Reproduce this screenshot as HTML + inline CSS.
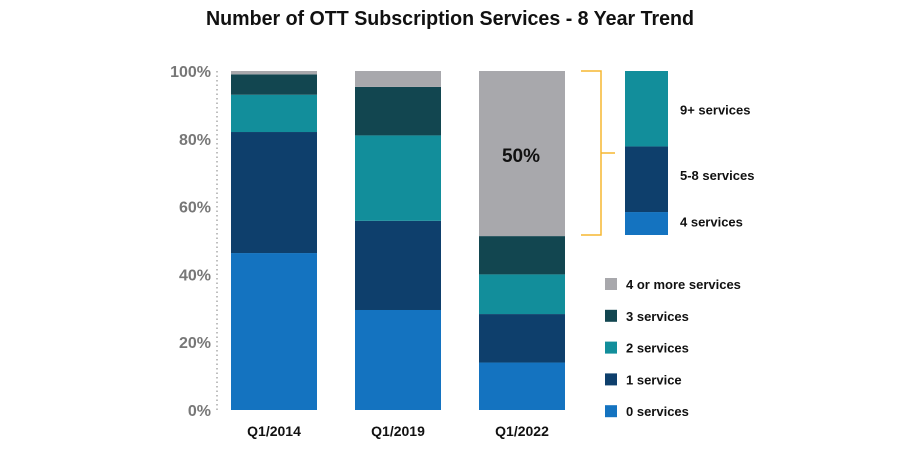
<!DOCTYPE html>
<html><head><meta charset="utf-8"><style>
body{margin:0;background:#fff;}
svg text{font-family:"Liberation Sans",sans-serif;}
</style></head><body>
<svg id="chart" width="900" height="444" xmlns="http://www.w3.org/2000/svg">
<text x="450" y="25" text-anchor="middle" font-size="20" font-weight="bold" fill="#111" textLength="488" lengthAdjust="spacingAndGlyphs">Number of OTT Subscription Services - 8 Year Trend</text>
<line x1="217" y1="71" x2="217" y2="410" stroke="#aaa" stroke-width="1.5" stroke-dasharray="1.5,3"/>
<g id="yticks"></g>
<g id="bars"></g>
<g id="xlabels"></g>
<text x="521" y="162" text-anchor="middle" font-size="19" font-weight="bold" fill="#111">50%</text>
<path d="M581 71 H601 V235 H581 M601 153 H615" fill="none" stroke="#f5b731" stroke-width="1.5"/>
<g id="breakdown"></g>
<g id="legend"></g>
</svg>
<script>
const categories=["Q1/2014","Q1/2019","Q1/2022"];
const seriesNames=["0 services","1 service","2 services","3 services","4 or more services"];
const s0=[46.3,29.5,14];
const s1=[35.7,26.3,14.3];
const s2=[11,25.2,11.7];
const s3=[6,14.3,11.3];
const s4=[1,4.7,48.7];
const colors=["#1473c0","#0e3f6c","#128e9b","#124650","#a8a8ac"];
const yTicks=[0,20,40,60,80,100];
const breakdownNames=["4 services","5-8 services","9+ services"];
const breakdownVals=[7,20,23];
const breakdownColors=["#1473c0","#0e3f6c","#128e9b"];
const NS="http://www.w3.org/2000/svg";
const y=v=>410-v*3.39;
const barX=i=>231+i*124;
const barW=86;
function mk(t,a,p){const e=document.createElementNS(NS,t);for(const k in a)e.setAttribute(k,a[k]);p.appendChild(e);return e;}
const yt=document.getElementById('yticks');
yTicks.forEach(v=>{const t=mk('text',{x:211,y:y(v)+6,'text-anchor':'end','font-size':16,'font-weight':'bold',fill:'#777'},yt);t.textContent=v+'%';

});
const series=[s0,s1,s2,s3,s4];
const bg=document.getElementById('bars');
categories.forEach((c,i)=>{let acc=0;series.forEach((s,k)=>{const v=s[i];const r=mk('rect',{x:barX(i),y:y(acc+v),width:barW,height:v*3.39,fill:colors[k]},bg);

acc+=v;});
const t=mk('text',{x:barX(i)+barW/2,y:436,'text-anchor':'middle','font-size':14,'font-weight':'bold',fill:'#111'},document.getElementById('xlabels'));t.textContent=c;

});
const bd=document.getElementById('breakdown');let acc=0;const total=breakdownVals.reduce((a,b)=>a+b,0);const sc=164/total;
const labelOffsets=[-2,-4,1];
breakdownVals.forEach((v,k)=>{const top=235-(acc+v)*sc;const r=mk('rect',{x:625,y:top,width:43,height:v*sc,fill:breakdownColors[k]},bd);


const t=mk('text',{x:680,y:top+v*sc/2+5+labelOffsets[k],'font-size':13,'font-weight':'bold',fill:'#111'},bd);t.textContent=breakdownNames[k];

acc+=v;});
const lg=document.getElementById('legend');
[4,3,2,1,0].forEach((k,j)=>{const yy=284+j*31.8;const r=mk('rect',{x:605,y:yy-6,width:12,height:12,fill:colors[k]},lg);


const t=mk('text',{x:626,y:yy+5,'font-size':13,'font-weight':'bold',fill:'#111'},lg);t.textContent=seriesNames[k];

});
</script>
</body></html>
